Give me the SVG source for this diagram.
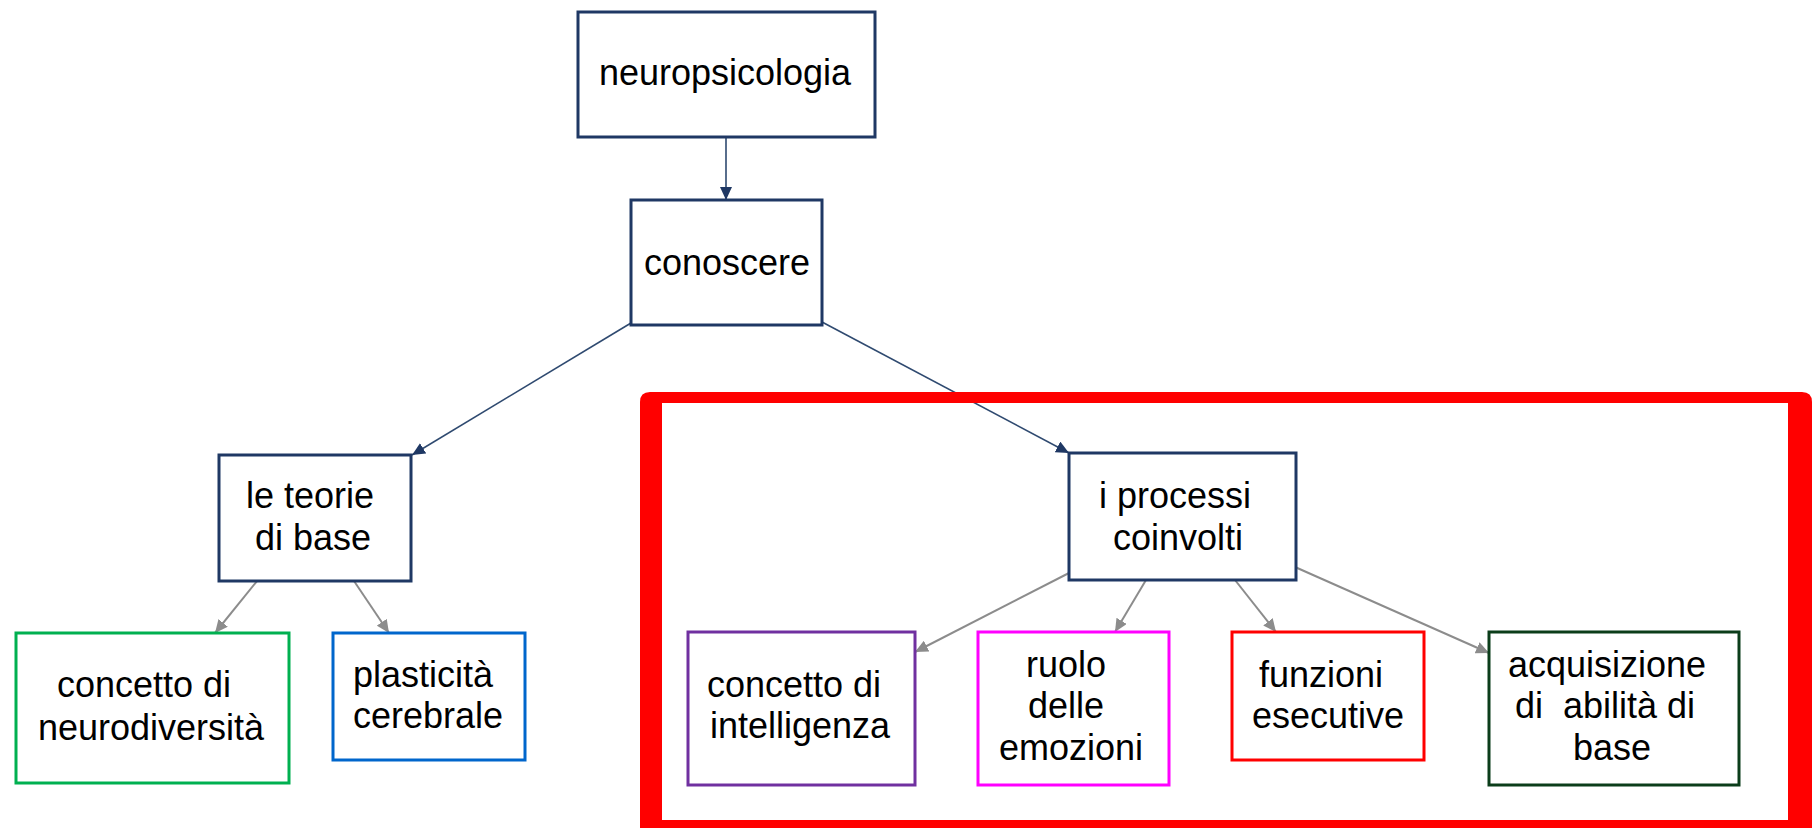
<svg xmlns="http://www.w3.org/2000/svg" width="1813" height="828" viewBox="0 0 1813 828">
<defs>
<style>
text{font-family:"Liberation Sans",Arial,sans-serif;font-size:36px;fill:#000;text-anchor:middle}
.box{fill:#fff;stroke-width:3}
.navy{stroke:#1f3864}
.c-nav{stroke:#2f4a70;stroke-width:1.6;fill:none}
.c-gry{stroke:#8c8c8c;stroke-width:2;fill:none}
</style>
<marker id="ahN" markerUnits="userSpaceOnUse" markerWidth="14" markerHeight="12" refX="13" refY="6" orient="auto">
<path d="M0,0 L13,6 L0,12 z" fill="#1f3864"/>
</marker>
<marker id="ahG" markerUnits="userSpaceOnUse" markerWidth="14" markerHeight="12" refX="13" refY="6" orient="auto">
<path d="M0,0 L13,6 L0,12 z" fill="#8c8c8c"/>
</marker>
</defs>
<rect width="1813" height="828" fill="#fff"/>
<g id="connectors">
<line class="c-nav" x1="726" y1="137" x2="726" y2="200" marker-end="url(#ahN)"/>
<line class="c-nav" x1="631" y1="323" x2="412" y2="455" marker-end="url(#ahN)"/>
<line class="c-nav" x1="822" y1="322" x2="1069" y2="453" marker-end="url(#ahN)"/>
<line class="c-gry" x1="257" y1="581" x2="215" y2="633" marker-end="url(#ahG)"/>
<line class="c-gry" x1="354" y1="581" x2="389" y2="633" marker-end="url(#ahG)"/>
<line class="c-gry" x1="1069" y1="573" x2="915" y2="652" marker-end="url(#ahG)"/>
<line class="c-gry" x1="1146" y1="580" x2="1115" y2="632" marker-end="url(#ahG)"/>
<line class="c-gry" x1="1235" y1="580" x2="1276" y2="632" marker-end="url(#ahG)"/>
<line class="c-gry" x1="1295" y1="567" x2="1489" y2="653" marker-end="url(#ahG)"/>
</g>
<g id="frame">
<path fill="#ff0000" fill-rule="evenodd" d="M650,392 H1802 Q1812,392 1812,402 V840 H640 V402 Q640,392 650,392 Z M662,403 V820 H1788 V403 Z"/>
</g>
<g id="n-neuropsicologia">
<rect class="box navy" x="578" y="12" width="297" height="125"/>
<text x="725" y="85">neuropsicologia</text>
</g>
<g id="n-conoscere">
<rect class="box navy" x="631" y="200" width="191" height="125"/>
<text x="727" y="275">conoscere</text>
</g>
<g id="n-teorie">
<rect class="box navy" x="219" y="455" width="192" height="126"/>
<text x="310" y="508">le teorie</text>
<text x="313" y="550">di base</text>
</g>
<g id="n-processi">
<rect class="box navy" x="1069" y="453" width="227" height="127"/>
<text x="1175" y="508">i processi</text>
<text x="1178" y="550">coinvolti</text>
</g>
<g id="n-neurodiversita">
<rect class="box" stroke="#00b050" x="16" y="633" width="273" height="150"/>
<text x="144" y="697">concetto di</text>
<text x="151" y="740">neurodiversità</text>
</g>
<g id="n-plasticita">
<rect class="box" stroke="#0066cc" x="333" y="633" width="192" height="127"/>
<text x="423" y="687">plasticità</text>
<text x="428" y="728">cerebrale</text>
</g>
<g id="n-intelligenza">
<rect class="box" stroke="#7030a0" x="688" y="632" width="227" height="153"/>
<text x="794" y="697">concetto di</text>
<text x="800" y="738">intelligenza</text>
</g>
<g id="n-emozioni">
<rect class="box" stroke="#ff00ff" x="978" y="632" width="191" height="153"/>
<text x="1066" y="677">ruolo</text>
<text x="1066" y="718">delle</text>
<text x="1071" y="760">emozioni</text>
</g>
<g id="n-esecutive">
<rect class="box" stroke="#ff0000" x="1232" y="632" width="192" height="128"/>
<text x="1321" y="687">funzioni</text>
<text x="1328" y="728">esecutive</text>
</g>
<g id="n-acquisizione">
<rect class="box" stroke="#0b3d1a" x="1489" y="632" width="250" height="153"/>
<text x="1607" y="677">acquisizione</text>
<text x="1605" y="718" xml:space="preserve">di  abilità di</text>
<text x="1612" y="760">base</text>
</g>
</svg>
